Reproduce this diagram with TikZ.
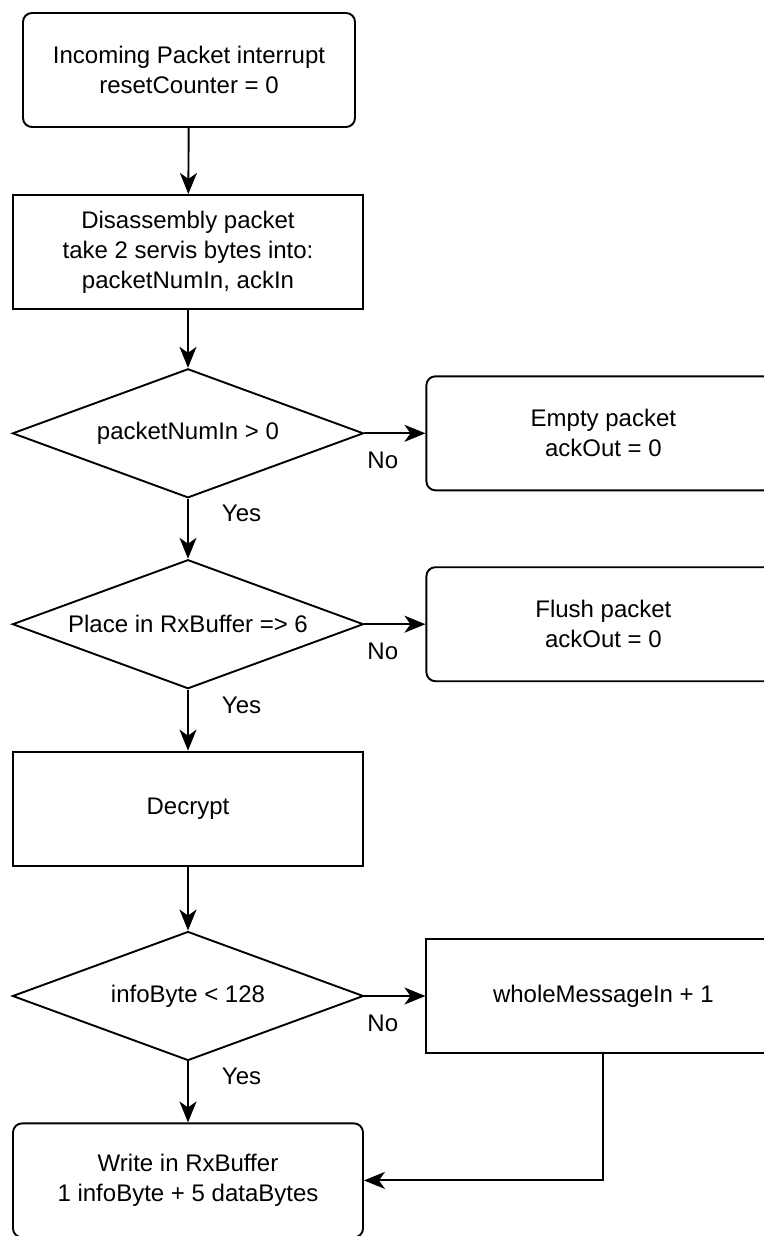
\documentclass[tikz,border=0pt]{standalone}
\usepackage{fontspec}
\setmainfont{Liberation Sans}
\usetikzlibrary{shapes,arrows.meta,positioning}

\begin{document}
\begin{tikzpicture}[
    font=\fontsize{24pt}{30pt}\selectfont,
    node distance=61pt and 61pt,
    box/.style={draw, line width=1.9pt, minimum width=350pt, minimum height=114pt, align=center, inner sep=4pt},
    process/.style={box},
    roundbox/.style={box, rounded corners=9pt},
    decision/.style={draw, line width=1.9pt, diamond, aspect=2.72, minimum width=351pt, minimum height=129pt, inner sep=0pt, align=center},
    lbl/.style={inner sep=2pt},
    arrow/.style={-{Stealth[length=21pt, width=17pt, inset=6pt]}, line width=1.9pt}
]
\useasboundingbox (0,0) rectangle (763pt,-1236pt);

% Left column
\node[roundbox, minimum width=332pt] (start) at (189pt,-70pt) {Incoming Packet interrupt\\resetCounter = 0};
\node[process, below=66pt of start, xshift=-1pt] (disasm) {Disassembly packet\\take 2 servis bytes into:\\packetNumIn, ackIn};
\node[decision, below=58pt of disasm] (numin) {packetNumIn > 0};
\node[decision, below=60pt of numin] (place) {Place in RxBuffer => 6};
\node[process, below=61pt of place] (decrypt) {Decrypt};
\node[decision, below=64pt of decrypt] (info) {infoByte < 128};
\node[roundbox, below=61pt of info] (write) {Write in RxBuffer\\1 infoByte + 5 dataBytes};

% Right column
\node[roundbox, right=of numin, minimum width=354pt] (empty) {Empty packet\\ackOut = 0};
\node[roundbox, right=of place, minimum width=354pt] (flush) {Flush packet\\ackOut = 0};
\node[process, right=of info, minimum width=354pt] (whole) {wholeMessageIn + 1};

% Arrows
\draw[arrow] (start) -- (disasm);
\draw[arrow] (disasm) -- (numin);
\draw[arrow] (numin) -- node[lbl, pos=0.3, below=16pt] {No} (empty);
\draw[arrow] (numin) -- node[lbl, pos=0.25, right=31pt] {Yes} (place);
\draw[arrow] (place) -- node[lbl, pos=0.3, below=16pt] {No} (flush);
\draw[arrow] (place) -- node[lbl, pos=0.25, right=31pt] {Yes} (decrypt);
\draw[arrow] (decrypt) -- (info);
\draw[arrow] (info) -- node[lbl, pos=0.3, below=16pt] {No} (whole);
\draw[arrow] (info) -- node[lbl, pos=0.25, right=31pt] {Yes} (write);
\draw[arrow] (whole) |- (write);

\end{tikzpicture}
\end{document}
